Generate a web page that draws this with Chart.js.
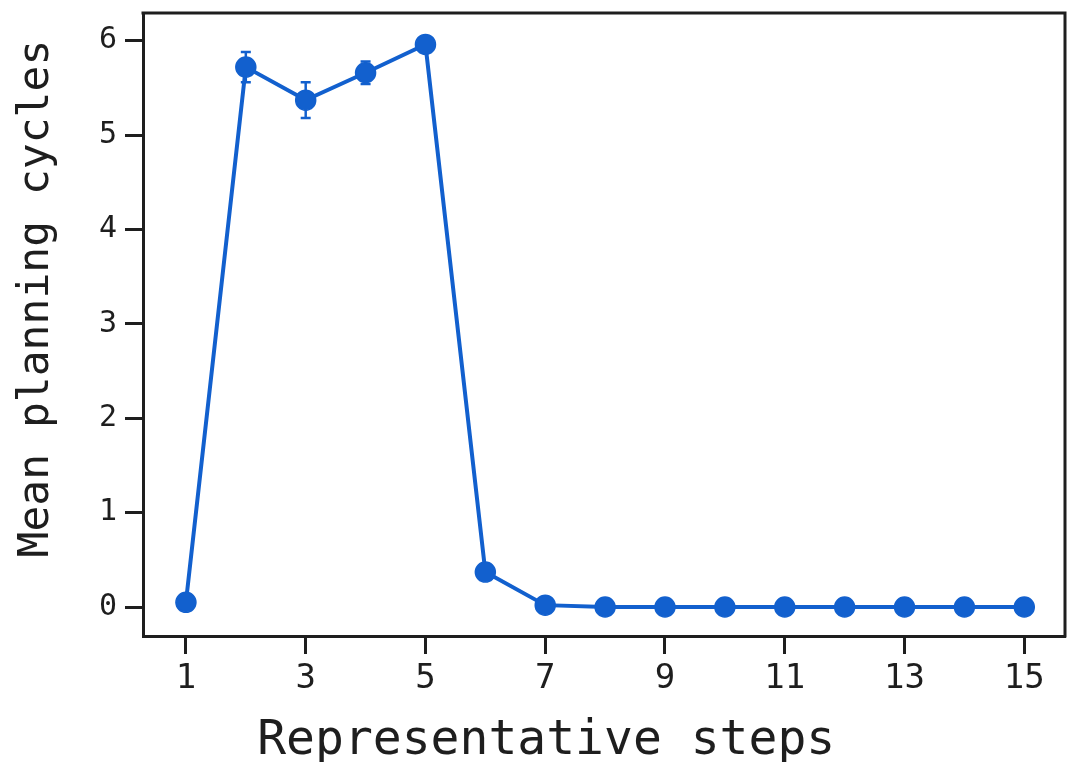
<!DOCTYPE html>
<html>
<head>
<meta charset="utf-8">
<script src="https://cdn.jsdelivr.net/npm/chart.js@4/dist/chart.umd.min.js"></script>
<style>
html,body{margin:0;padding:0;background:#fff;}
#wrap{width:1067px;height:762px;}
</style>
</head>
<body>
<div id="wrap"><canvas id="c" width="1067" height="762"></canvas></div>
<script>
const steps = [1,2,3,4,5,6,7,8,9,10,11,12,13,14,15];
const meanCycles = [0.05,5.72,5.37,5.66,5.96,0.37,0.02,0,0,0,0,0,0,0,0];
const errCycles = [0.03,0.16,0.19,0.12,0.04,0.08,0.01,0,0,0,0,0,0,0,0];
const xTickValues = [1,3,5,7,9,11,13,15];
const yTickValues = [0,1,2,3,4,5,6];
const xTitle = "Representative steps    ";
const yTitle = "  Mean planning cycles";

const BLUE = 'rgb(18,96,206)';
const INK = '#1e1e1e';
const FONT = "'DejaVu Sans Mono', monospace";

const errorBars = {
  id: 'errorBars',
  beforeDatasetsDraw(chart) {
    const ctx = chart.ctx, xs = chart.scales.x, ys = chart.scales.y;
    ctx.save();
    ctx.strokeStyle = BLUE;
    ctx.lineWidth = 2.5;
    steps.forEach((s, i) => {
      const e = errCycles[i];
      if (!e) return;
      const px = xs.getPixelForValue(s);
      const y1 = ys.getPixelForValue(meanCycles[i] - e);
      const y2 = ys.getPixelForValue(meanCycles[i] + e);
      ctx.beginPath();
      ctx.moveTo(px, y1); ctx.lineTo(px, y2);
      ctx.moveTo(px - 5, y1); ctx.lineTo(px + 5, y1);
      ctx.moveTo(px - 5, y2); ctx.lineTo(px + 5, y2);
      ctx.stroke();
    });
    ctx.restore();
  }
};

const frame = {
  id: 'frame',
  afterDraw(chart) {
    const {left, right, top, bottom} = chart.chartArea;
    const ctx = chart.ctx;
    ctx.save();
    ctx.strokeStyle = INK;
    ctx.lineWidth = 3;
    ctx.beginPath();
    ctx.moveTo(left - 1.5, top); ctx.lineTo(right, top); ctx.lineTo(right, bottom + 1.5);
    ctx.stroke();
    ctx.restore();
  }
};

new Chart(document.getElementById('c'), {
  type: 'line',
  data: {
    datasets: [{
      data: steps.map((s, i) => ({x: s, y: meanCycles[i]})),
      borderColor: BLUE,
      backgroundColor: BLUE,
      borderWidth: 4,
      pointRadius: 10,
      pointBorderWidth: 1.5,
      pointBackgroundColor: BLUE,
      pointBorderColor: BLUE,
      tension: 0,
      clip: false
    }]
  },
  options: {
    responsive: false,
    animation: false,
    devicePixelRatio: 1,
    layout: {autoPadding: false, padding: {top: 13, right: 2, left: 0, bottom: 0}},
    plugins: {legend: {display: false}, tooltip: {enabled: false}},
    scales: {
      x: {
        type: 'linear',
        min: 0.283, max: 15.68,
        afterBuildTicks: (sc) => { sc.ticks = xTickValues.map(v => ({value: v})); },
        afterFit: (sc) => { sc.height = 126; sc.paddingLeft = 0; sc.paddingRight = 0; },
        grid: {display: true, drawOnChartArea: false, drawTicks: true, tickLength: 18, tickWidth: 3, tickColor: INK},
        border: {display: true, color: INK, width: 3},
        ticks: {color: INK, font: {family: FONT, size: 34}, padding: 5, maxRotation: 0, autoSkip: false},
        title: {display: true, text: xTitle, color: INK, font: {family: FONT, size: 48, lineHeight: 0.8}, padding: {top: 0, bottom: 1}}
      },
      y: {
        type: 'linear',
        min: -0.307, max: 6.293,
        afterBuildTicks: (sc) => { sc.ticks = yTickValues.map(v => ({value: v})); },
        afterFit: (sc) => { sc.width = 143; sc.paddingTop = 0; sc.paddingBottom = 0; },
        grid: {display: true, drawOnChartArea: false, drawTicks: true, tickLength: 18, tickWidth: 3, tickColor: INK},
        border: {display: true, color: INK, width: 3},
        ticks: {color: INK, font: {family: FONT, size: 30}, padding: 8},
        title: {display: true, text: yTitle, color: INK, font: {family: FONT, size: 43, lineHeight: 1.2}, padding: {top: 11, bottom: 0}}
      }
    }
  },
  plugins: [errorBars, frame]
});
</script>
</body>
</html>
